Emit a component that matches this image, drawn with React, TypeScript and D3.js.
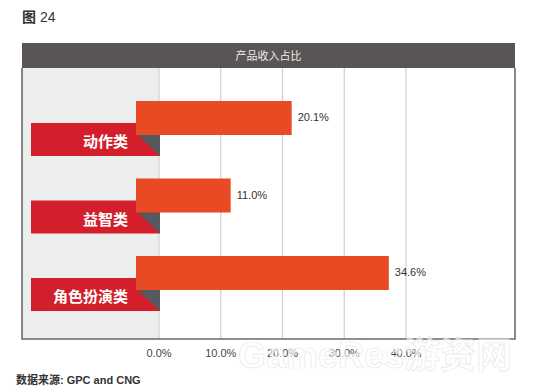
import React from 'react';
import * as d3 from 'd3';

// chart data
const categories = ['动作类', '益智类', '角色扮演类'];
const shares = [20.1, 11.0, 34.6];
const ticks = [0, 10, 20, 30, 40];

const W = 536;
const H = 388;
const frame = { left: 22, right: 515, top: 43, header: 25, bottom: 339 };
const FONT = '"Liberation Sans", "Noto Sans CJK SC", sans-serif';

const App: React.FC = () => {
  // grid / axis scale
  const x = d3.scaleLinear().domain([0, 40]).range([159, 406]);
  // bars are drawn a little stretched in the original infographic
  const barX = d3.scaleLinear().domain([0, 40]).range([157, 425]);
  const y = d3
    .scaleBand<string>()
    .domain(categories)
    .range([101, 101 + 77.5 * 3])
    .paddingInner(0)
    .paddingOuter(0);

  const barH = 34;
  const flagLeft = 31;
  const flagRight = 160;
  const barLeft = 136;
  const headerBottom = frame.top + frame.header;

  return (
    <svg width={W} height={H} style={{ position: 'absolute', left: 0, top: 0 }} fontFamily={FONT}>
      <rect width={W} height={H} fill="#fff" />

      <text x={22} y={22} fontSize={14} fill="#333">
        <tspan fontWeight="bold">图</tspan> 24
      </text>

      {/* header band */}
      <rect x={frame.left} y={frame.top} width={frame.right - frame.left} height={frame.header} fill="#595555" />
      <text
        x={(frame.left + frame.right) / 2}
        y={frame.top + 17}
        textAnchor="middle"
        fontSize={11}
        fill="#ececec"
      >
        产品收入占比
      </text>

      {/* label panel */}
      <rect x={frame.left} y={headerBottom} width={x(0) - frame.left} height={frame.bottom - headerBottom} fill="#eceeee" />

      {/* grid */}
      {ticks.map((t) => (
        <line key={t} x1={x(t)} x2={x(t)} y1={headerBottom} y2={frame.bottom} stroke="#cfcfcf" strokeWidth={1.2} />
      ))}

      {/* frame */}
      <path
        d={`M${frame.left},${headerBottom}V${frame.bottom}H${frame.right}V${headerBottom}`}
        fill="none"
        stroke="#6b6b6b"
        strokeWidth={1.6}
      />

      {categories.map((c, i) => {
        const top = y(c)!;
        const fTop = top + 22;
        const fH = 33;
        return (
          <g key={c}>
            <rect x={flagLeft} y={fTop} width={flagRight - flagLeft} height={fH} fill="#d21f2b" />
            <path
              d={`M${barLeft + 2},${top + barH}L${flagRight},${top + barH}L${flagRight},${fTop + fH}Z`}
              fill="#565a5e"
            />
            <text
              x={128}
              y={fTop + 24}
              textAnchor="end"
              fontSize={15}
              fontWeight="bold"
              fill="#fff"
              fontFamily='"Noto Sans CJK SC", sans-serif'
            >
              {c}
            </text>
            <rect x={barLeft} y={top} width={barX(shares[i]) - barLeft} height={barH} fill="#e84a24" />
            <text x={barX(shares[i]) + 6} y={top + 20} fontSize={11} fill="#333">
              {d3.format('.1f')(shares[i])}%
            </text>
          </g>
        );
      })}

      {/* tick labels */}
      {ticks.map((t) => (
        <text key={t} x={x(t)} y={357} textAnchor="middle" fontSize={11} fill="#444">
          {d3.format('.1f')(t)}%
        </text>
      ))}

      {/* watermark */}
      <text
        x={375}
        y={368}
        textAnchor="middle"
        fontSize={36}
        fontWeight="bold"
        fill="#ffffff"
        fillOpacity={0.6}
        stroke="#e2e2e2"
        strokeOpacity={0.8}
        strokeWidth={0.7}
        fontFamily='"Liberation Sans", "Noto Sans CJK SC", sans-serif'
      >
        GameRes游资网
      </text>

      <text x={16} y={384} fontSize={11} fontWeight="bold" fill="#333">
        数据来源: GPC and CNG
      </text>
    </svg>
  );
};

export default App;
